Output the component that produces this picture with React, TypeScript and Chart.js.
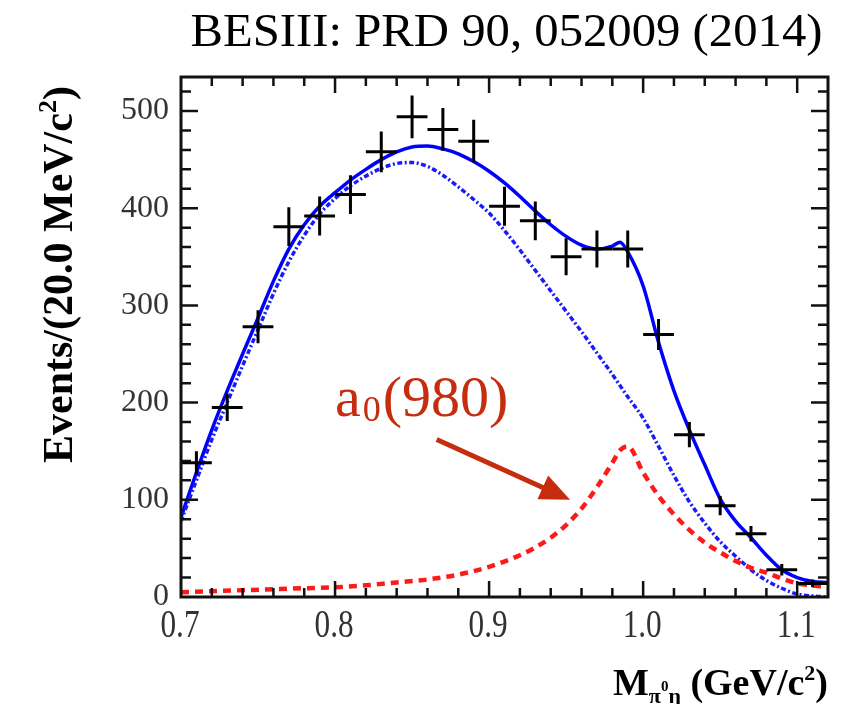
import React, { useEffect, useRef } from "react";
import { Chart, registerables } from "chart.js";

Chart.register(...registerables);

// ---- data ----
const binMass = [0.71, 0.73, 0.75, 0.77, 0.79, 0.81, 0.83, 0.85, 0.87, 0.89, 0.91, 0.93, 0.95, 0.97, 0.99, 1.01, 1.03, 1.05, 1.07, 1.09, 1.11];
const binCounts = [138, 195, 278, 381, 392, 414, 458, 494, 481, 469, 402, 387, 350, 358, 358, 270, 167, 94, 65, 28, 14];
const binErrors = [12, 14, 17, 20, 20, 20, 21, 22, 22, 22, 20, 20, 19, 19, 19, 16, 13, 10, 8, 6, 4];
const binHalfWidth = 0.01;

const totalMass = [0.70, 0.71, 0.72, 0.73, 0.74, 0.75, 0.76, 0.77, 0.78, 0.79, 0.80, 0.81, 0.82, 0.83, 0.84, 0.85, 0.86, 0.87, 0.88, 0.89, 0.90, 0.91, 0.92, 0.93, 0.94, 0.95, 0.96, 0.97, 0.98, 0.985, 0.99, 1.00, 1.01, 1.02, 1.03, 1.04, 1.05, 1.06, 1.07, 1.08, 1.09, 1.10, 1.11, 1.12];
const totalFit = [82, 128, 172, 212, 250, 287, 325, 358, 383, 402, 416, 429, 440, 450, 458, 463, 464, 461, 456, 448, 438, 426, 412, 397, 383, 371, 362, 358, 361, 365, 355, 320, 262, 212, 172, 136, 101, 78, 61, 43, 28, 20, 16, 15];

const bkgMass = [0.70, 0.71, 0.72, 0.73, 0.74, 0.75, 0.76, 0.77, 0.78, 0.79, 0.80, 0.81, 0.82, 0.83, 0.84, 0.85, 0.86, 0.87, 0.88, 0.89, 0.90, 0.91, 0.92, 0.93, 0.94, 0.95, 0.96, 0.97, 0.98, 0.99, 1.00, 1.01, 1.02, 1.03, 1.04, 1.05, 1.06, 1.07, 1.08, 1.09, 1.10, 1.11, 1.12];
const bkgFit = [78, 120, 162, 200, 238, 275, 312, 345, 372, 394, 410, 423, 433, 441, 446, 447, 443, 434, 422, 409, 395, 377, 357, 336, 315, 294, 273, 251, 229, 206, 184, 155, 125, 98, 76, 57, 42, 28, 17, 9, 3, 1, 0];

const a0Mass = [0.70, 0.72, 0.74, 0.76, 0.78, 0.80, 0.82, 0.84, 0.86, 0.88, 0.90, 0.92, 0.93, 0.94, 0.95, 0.96, 0.97, 0.98, 0.985, 0.99, 1.00, 1.01, 1.02, 1.03, 1.04, 1.05, 1.06, 1.07, 1.08, 1.09, 1.10, 1.11, 1.12];
const a0Fit = [5, 6, 7, 8, 9, 10, 12, 15, 18, 23, 31, 43, 51, 61, 74, 91, 113, 138, 151, 155, 128, 104, 85, 69, 56, 46, 37, 30, 25, 19, 14, 12, 10];

const xMin = 0.7;
const xMax = 1.12;
const xMajorStep = 0.1;
const xMinorStep = 0.02;
const yMin = 0;
const yMax = 535;
const yMajorStep = 100;
const yMinorStep = 20;

const titleText = "BESIII: PRD 90, 052009 (2014)";
const a0Label = { main: "a", sub: "0", rest: "(980)", x: 0.8, y: 186 };
const a0Arrow = { x0: 0.866, y0: 162, x1: 0.9526, y1: 100 };

const toPts = (xs: number[], ys: number[]) => xs.map((x, i) => ({ x, y: ys[i] }));

const overlayPlugin = {
  id: "overlay",
  afterDatasetsDraw(chart: any) {
    const { ctx, chartArea, scales } = chart;
    const xs = scales.x;
    const ys = scales.y;
    const meta = chart.getDatasetMeta(0);
    ctx.save();
    ctx.beginPath();
    ctx.rect(chartArea.left, chartArea.top, chartArea.right - chartArea.left, chartArea.bottom - chartArea.top);
    ctx.clip();
    ctx.strokeStyle = "#000";
    ctx.lineWidth = 3;
    meta.data.forEach((pt: any, i: number) => {
      const xa = xs.getPixelForValue(binMass[i] - binHalfWidth);
      const xb = xs.getPixelForValue(binMass[i] + binHalfWidth);
      const ya = ys.getPixelForValue(binCounts[i] - binErrors[i]);
      const yb = ys.getPixelForValue(binCounts[i] + binErrors[i]);
      ctx.beginPath();
      ctx.moveTo(xa, pt.y);
      ctx.lineTo(xb, pt.y);
      ctx.moveTo(pt.x, ya);
      ctx.lineTo(pt.x, yb);
      ctx.stroke();
    });
    ctx.restore();
  },
  afterDraw(chart: any) {
    const { ctx, chartArea, scales } = chart;
    const xs = scales.x;
    const ys = scales.y;
    const { left, right, top, bottom } = chartArea;
    ctx.save();
    // frame
    ctx.strokeStyle = "#111";
    ctx.lineWidth = 3;
    ctx.strokeRect(left, top, right - left, bottom - top);
    // ticks
    ctx.lineWidth = 2.5;
    ctx.beginPath();
    const nx = Math.round((xMax - xMin) / xMinorStep);
    for (let k = 1; k < nx; k++) {
      const v = xMin + k * xMinorStep;
      const isMajor = Math.abs(v / xMajorStep - Math.round(v / xMajorStep)) < 1e-6;
      const len = isMajor ? 16 : 9;
      const px = xs.getPixelForValue(v);
      ctx.moveTo(px, bottom);
      ctx.lineTo(px, bottom - len);
      ctx.moveTo(px, top);
      ctx.lineTo(px, top + len);
    }
    const ny = Math.floor((yMax - yMin) / yMinorStep);
    for (let k = 1; k <= ny; k++) {
      const v = yMin + k * yMinorStep;
      const isMajor = v % yMajorStep === 0;
      const len = isMajor ? 17 : 10;
      const py = ys.getPixelForValue(v);
      ctx.moveTo(left, py);
      ctx.lineTo(left + len, py);
      ctx.moveTo(right, py);
      ctx.lineTo(right - len, py);
    }
    ctx.stroke();

    // x tick labels (condensed serif, as in the reference)
    ctx.fillStyle = "#333";
    ctx.textAlign = "center";
    ctx.textBaseline = "alphabetic";
    ctx.font = '40px "Liberation Serif"';
    xs.ticks.forEach((t: any) => {
      const px = xs.getPixelForValue(t.value);
      ctx.save();
      ctx.translate(px - 1, bottom + 40);
      ctx.scale(0.78, 1);
      ctx.fillText(Number(t.value).toFixed(1), 0, 0);
      ctx.restore();
    });

    // title
    ctx.fillStyle = "#000";
    ctx.textAlign = "center";
    ctx.font = '50px "Liberation Serif"';
    const w = ctx.measureText(titleText).width;
    ctx.save();
    ctx.translate((left + right) / 2 + 2, 46);
    ctx.scale(632 / w, 0.92);
    ctx.fillText(titleText, 0, 0);
    ctx.restore();

    // y axis title
    ctx.save();
    ctx.translate(72, 463);
    ctx.rotate(-Math.PI / 2);
    ctx.textAlign = "left";
    ctx.font = 'bold 42px "Liberation Serif"';
    const yt1 = "Events/(20.0 MeV/c";
    ctx.fillText(yt1, 0, 0);
    let off = ctx.measureText(yt1).width;
    ctx.font = 'bold 26px "Liberation Serif"';
    ctx.fillText("2", off, -16);
    off += ctx.measureText("2").width;
    ctx.font = 'bold 42px "Liberation Serif"';
    ctx.fillText(")", off, 0);
    ctx.restore();

    // x axis title
    ctx.textAlign = "left";
    const bigF = 'bold 38px "Liberation Serif"';
    const subF = 'bold 22px "Liberation Serif"';
    const parts = [
      { t: "M", f: bigF, dy: 0 },
      { t: "\u03c0", f: subF, dy: 8 },
      { t: "0", f: 'bold 15px "Liberation Serif"', dy: -4 },
      { t: "\u03b7", f: subF, dy: 8 },
      { t: " (GeV/c", f: bigF, dy: 0 },
      { t: "2", f: subF, dy: -15 },
      { t: ")", f: bigF, dy: 0 },
    ];
    let total = 0;
    parts.forEach((p) => { ctx.font = p.f; total += ctx.measureText(p.t).width; });
    let cx = right - total;
    parts.forEach((p) => {
      ctx.font = p.f;
      ctx.fillText(p.t, cx, 695 + p.dy);
      cx += ctx.measureText(p.t).width;
    });

    // a0 label
    ctx.fillStyle = "#c62d0f";
    ctx.strokeStyle = "#c62d0f";
    const lx = xs.getPixelForValue(a0Label.x);
    const ly = ys.getPixelForValue(a0Label.y);
    ctx.font = '58px "Liberation Serif"';
    ctx.fillText(a0Label.main, lx, ly);
    let lo = lx + ctx.measureText(a0Label.main).width + 2;
    ctx.font = '36px "Liberation Serif"';
    ctx.fillText(a0Label.sub, lo, ly + 5);
    lo += ctx.measureText(a0Label.sub).width + 2;
    ctx.font = '58px "Liberation Serif"';
    ctx.fillText(a0Label.rest, lo, ly);

    // arrow
    const ax0 = xs.getPixelForValue(a0Arrow.x0);
    const ay0 = ys.getPixelForValue(a0Arrow.y0);
    const ax1 = xs.getPixelForValue(a0Arrow.x1);
    const ay1 = ys.getPixelForValue(a0Arrow.y1);
    const ang = Math.atan2(ay1 - ay0, ax1 - ax0);
    const headLen = 30;
    const headHalf = 13;
    ctx.lineWidth = 5;
    ctx.beginPath();
    ctx.moveTo(ax0, ay0);
    ctx.lineTo(ax1 - headLen * 0.8 * Math.cos(ang), ay1 - headLen * 0.8 * Math.sin(ang));
    ctx.stroke();
    ctx.beginPath();
    ctx.moveTo(ax1, ay1);
    ctx.lineTo(ax1 - headLen * Math.cos(ang) + headHalf * Math.sin(ang), ay1 - headLen * Math.sin(ang) - headHalf * Math.cos(ang));
    ctx.lineTo(ax1 - headLen * Math.cos(ang) - headHalf * Math.sin(ang), ay1 - headLen * Math.sin(ang) + headHalf * Math.cos(ang));
    ctx.closePath();
    ctx.fill();
    ctx.restore();
  },
};

export default function App() {
  const canvasRef = useRef<HTMLCanvasElement | null>(null);

  useEffect(() => {
    document.body.style.margin = "0";
    const canvas = canvasRef.current;
    if (!canvas) return;
    const chart = new Chart(canvas, {
      type: "line",
      data: {
        datasets: [
          {
            type: "scatter",
            label: "Data",
            data: toPts(binMass, binCounts),
            pointRadius: 0,
            showLine: false,
            borderColor: "#000",
            backgroundColor: "#000",
          } as any,
          {
            label: "a0(980)",
            data: toPts(a0Mass, a0Fit),
            borderColor: "#ff1a1a",
            borderWidth: 4.5,
            borderDash: [8, 6],
            pointRadius: 0,
            fill: false,
            cubicInterpolationMode: "monotone",
          },
          {
            label: "Background",
            data: toPts(bkgMass, bkgFit),
            borderColor: "#1a1aff",
            borderWidth: 3.5,
            borderDash: [5, 2.5, 2, 2.5],
            pointRadius: 0,
            fill: false,
            cubicInterpolationMode: "monotone",
          },
          {
            label: "Total fit",
            data: toPts(totalMass, totalFit),
            borderColor: "#0000ff",
            borderWidth: 3.5,
            pointRadius: 0,
            fill: false,
            cubicInterpolationMode: "monotone",
          },
        ],
      },
      options: {
        animation: false,
        responsive: false,
        maintainAspectRatio: false,
        layout: { padding: { top: 77, right: 17, left: 0, bottom: 0 } },
        plugins: {
          legend: { display: false },
          tooltip: { enabled: false },
          title: { display: false },
        },
        scales: {
          x: {
            type: "linear",
            min: xMin,
            max: xMax,
            grid: { display: false, drawTicks: false },
            border: { display: false },
            afterFit: (s: any) => { s.height = 107; },
            ticks: {
              stepSize: xMajorStep,
              includeBounds: false,
              autoSkip: false,
              maxRotation: 0,
              display: false,
            },
          },
          y: {
            type: "linear",
            min: yMin,
            max: yMax,
            grid: { display: false, drawTicks: false },
            border: { display: false },
            afterFit: (s: any) => { s.width = 181; },
            ticks: {
              stepSize: yMajorStep,
              includeBounds: false,
              padding: 12,
              color: "#333",
              font: { family: '"Liberation Serif"', size: 32 },
            },
          },
        },
      },
      plugins: [overlayPlugin],
    });
    return () => chart.destroy();
  }, []);

  return (
    <div style={{ width: 845, height: 704, background: "#fff" }}>
      <canvas ref={canvasRef} width={845} height={704} style={{ display: "block" }} />
    </div>
  );
}
